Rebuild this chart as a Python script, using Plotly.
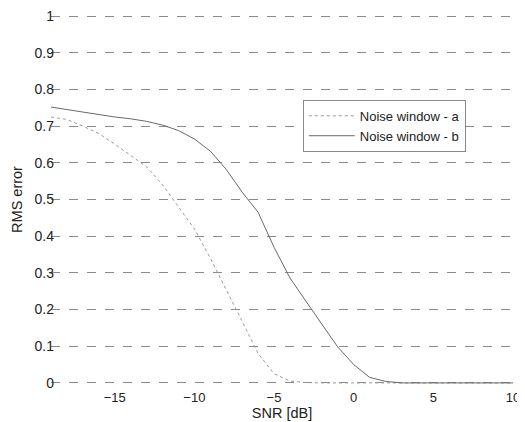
import plotly.graph_objects as go

snr = [-19, -18, -17, -16, -15, -14, -13, -12, -11, -10, -9, -8, -7, -6, -5,
       -4, -3, -2, -1, 0, 1, 2, 3, 4, 5, 6, 7, 8, 9, 10]
rms_a = [0.725, 0.718, 0.70, 0.68, 0.651, 0.62, 0.589, 0.54, 0.48, 0.42, 0.34,
         0.255, 0.168, 0.08, 0.025, 0.005, 0.001, 0, 0, 0, 0, 0, 0, 0, 0, 0, 0, 0, 0, 0]
rms_b = [0.752, 0.745, 0.738, 0.731, 0.725, 0.72, 0.713, 0.703, 0.688, 0.665, 0.632,
         0.582, 0.52, 0.465, 0.37, 0.286, 0.222, 0.16, 0.098, 0.05, 0.015, 0.004,
         0, 0, 0, 0, 0, 0, 0, 0]
x_ticks = [-15, -10, -5, 0, 5, 10]
y_ticks = [0, 0.1, 0.2, 0.3, 0.4, 0.5, 0.6, 0.7, 0.8, 0.9, 1]
y_tick_labels = ["0", "0.1", "0.2", "0.3", "0.4", "0.5", "0.6", "0.7", "0.8", "0.9", "1"]

fig = go.Figure()
fig.add_trace(go.Scatter(x=snr, y=rms_a, mode="lines", name="Noise window - a",
                         line=dict(color="#9a9a9a", width=1, dash="dot")))
fig.add_trace(go.Scatter(x=snr, y=rms_b, mode="lines", name="Noise window - b",
                         line=dict(color="#6a6a6a", width=1)))

# page body has an 8px default margin, so the figure is sized to fit what is left
fam = "Liberation Sans, Arial, sans-serif"
fig.update_layout(
    width=517, height=414,
    margin=dict(l=43, r=12, t=7, b=38, autoexpand=False),
    paper_bgcolor="white", plot_bgcolor="white",
    font=dict(family=fam, size=13, color="#222"),
    showlegend=True,
    legend=dict(x=0.545, y=0.77, xanchor="left", yanchor="top",
                bgcolor="white", bordercolor="#8a8a8a", borderwidth=1,
                font=dict(family=fam, size=13, color="#222"),
                itemwidth=46, tracegroupgap=0),
    xaxis=dict(range=[-19, 10], tickvals=x_ticks, showgrid=False, zeroline=False,
               showline=False, ticks="", ticklabelstandoff=4, automargin=False,
               ticklabeloverflow="allow", tickfont=dict(size=13),
               title=dict(text="SNR [dB]", standoff=2, font=dict(family=fam, size=14.5))),
    yaxis=dict(range=[-0.003, 1.003], tickvals=y_ticks, ticktext=y_tick_labels,
               showgrid=True, gridcolor="#8a8a8a", gridwidth=1, griddash="dash",
               zeroline=False, showline=False, ticks="", ticklabelstandoff=-4,
               automargin=False, ticklabeloverflow="allow", tickfont=dict(size=14),
               title=dict(text="RMS error", standoff=8, font=dict(family=fam, size=14.5))),
)
fig.write_html("out.html")
